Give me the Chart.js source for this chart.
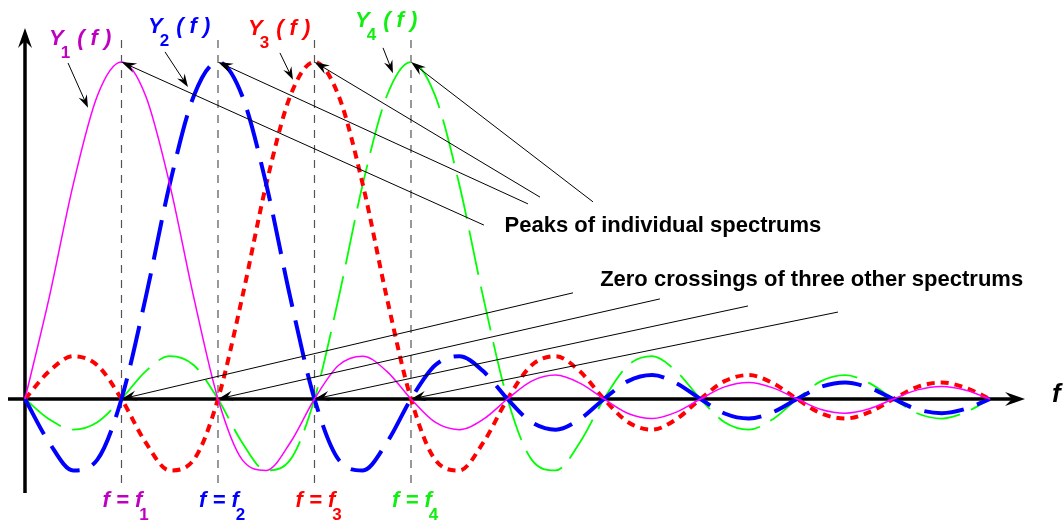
<!DOCTYPE html>
<html>
<head>
<meta charset="utf-8">
<title>Overlapping subcarrier spectra</title>
<script src="https://cdn.jsdelivr.net/npm/chart.js@4.4.1/dist/chart.umd.min.js"></script>
<style>
  html, body { margin: 0; padding: 0; background: #fff; }
  #wrap { width: 1064px; height: 523px; }
</style>
</head>
<body>
<div id="wrap"><canvas id="spectra" width="1064" height="523"></canvas></div>
<script>
// Frequency grid, in units of the subcarrier spacing
const freq = [0, 0.25, 0.5, 0.75, 1, 1.25, 1.5, 1.75, 2, 2.25, 2.5, 2.75, 3, 3.25, 3.5, 3.75,
              4, 4.25, 4.5, 4.75, 5, 5.25, 5.5, 5.75, 6, 6.25, 6.5, 6.75, 7, 7.25, 7.5, 7.75,
              8, 8.25, 8.5, 8.75, 9, 9.25, 9.5, 9.75, 10];

// Spectrum amplitudes (peak = 1)
const y1Vals = [0, 0.300, 0.637, 0.900, 1, 0.900, 0.637, 0.300, 0, -0.180, -0.212, -0.129, 0, 0.100, 0.127, 0.082,
                0, -0.069, -0.091, -0.060, 0, 0.053, 0.071, 0.047, 0, -0.043, -0.058, -0.039, 0, 0.036, 0.049, 0.033,
                0, -0.031, -0.042, -0.029, 0, 0.027, 0.037, 0.026, 0];
const y2Vals = [0, -0.129, -0.212, -0.180, 0, 0.300, 0.637, 0.900, 1, 0.900, 0.637, 0.300, 0, -0.180, -0.212, -0.129,
                0, 0.100, 0.127, 0.082, 0, -0.069, -0.091, -0.060, 0, 0.053, 0.071, 0.047, 0, -0.043, -0.058, -0.039,
                0, 0.036, 0.049, 0.033, 0, -0.031, -0.042, -0.029, 0];
const y3Vals = [0, 0.082, 0.127, 0.100, 0, -0.129, -0.212, -0.180, 0, 0.300, 0.637, 0.900, 1, 0.900, 0.637, 0.300,
                0, -0.180, -0.212, -0.129, 0, 0.100, 0.127, 0.082, 0, -0.069, -0.091, -0.060, 0, 0.053, 0.071, 0.047,
                0, -0.043, -0.058, -0.039, 0, 0.036, 0.049, 0.033, 0];
const y4Vals = [0, -0.060, -0.091, -0.069, 0, 0.082, 0.127, 0.100, 0, -0.129, -0.212, -0.180, 0, 0.300, 0.637, 0.900,
                1, 0.900, 0.637, 0.300, 0, -0.180, -0.212, -0.129, 0, 0.100, 0.127, 0.082, 0, -0.069, -0.091, -0.060,
                0, 0.053, 0.071, 0.047, 0, -0.043, -0.058, -0.039, 0];

// Subcarrier centre frequencies and their names
const carriers = [1, 2, 3, 4];
const carrierSubs = ['1', '2', '3', '4'];

const curveColors = ['#ff00ff', '#0000ff', '#ff0000', '#00ff00'];
const textColors = ['#c000c0', '#0000ff', '#ff0000', '#11ee11'];

// Annotation layout, in data units (frequency, amplitude)
const nameAnchors = [[0.249, 1.050], [1.275, 1.086], [2.311, 1.080], [3.420, 1.104]];
const nameArrows = [[0.446, 0.997, 0.653, 0.864], [1.451, 1.030, 1.689, 0.926],
                    [2.642, 1.027, 2.777, 0.947], [3.710, 1.042, 3.813, 0.967]];
const peakTails = [[4.756, 0.516], [5.212, 0.579], [5.337, 0.599], [5.886, 0.585]];
const zeroTails = [[5.679, 0.315], [6.580, 0.297], [7.492, 0.276], [8.425, 0.258]];

const FONT = '"Liberation Sans", Arial, sans-serif';
const bigFont = 'italic bold 22px ' + FONT;
const subFont = 'bold 17px ' + FONT;

function toPoints(vals) {
    return freq.map((f, i) => ({ x: f, y: vals[i] }));
}

// Line with a barbed arrowhead at (x1, y1)
function arrow(ctx, x0, y0, x1, y1, len, half) {
    const ang = Math.atan2(y1 - y0, x1 - x0);
    const c = Math.cos(ang), s = Math.sin(ang);
    const bx = x1 - len * c, by = y1 - len * s;
    ctx.beginPath();
    ctx.moveTo(x0, y0);
    ctx.lineTo(x1 - len * 0.6 * c, y1 - len * 0.6 * s);
    ctx.stroke();
    ctx.beginPath();
    ctx.moveTo(x1, y1);
    ctx.lineTo(bx - half * s, by + half * c);
    ctx.lineTo(x1 - len * 0.65 * c, y1 - len * 0.65 * s);
    ctx.lineTo(bx + half * s, by - half * c);
    ctx.closePath();
    ctx.fill();
}

// Text with a subscript, optionally followed by more text
function subText(ctx, x, base, main, sub, tail, color) {
    ctx.fillStyle = color;
    ctx.font = bigFont;
    ctx.fillText(main, x, base);
    const w = ctx.measureText(main).width;
    ctx.font = subFont;
    ctx.fillText(sub, x + w - 3, base + 13);
    const ws = ctx.measureText(sub).width;
    if (tail) {
        ctx.font = bigFont;
        ctx.fillText(tail, x + w - 3 + ws + 7, base);
    }
}

const diagram = {
    id: 'diagram',
    beforeDatasetsDraw(chart) {
        const { ctx, scales: { x, y } } = chart;
        const px = f => x.getPixelForValue(f);
        const py = a => y.getPixelForValue(a);
        ctx.save();

        // dashed markers at the carrier frequencies
        ctx.strokeStyle = '#555';
        ctx.lineWidth = 1.2;
        ctx.setLineDash([8, 7]);
        carriers.forEach(k => {
            ctx.beginPath();
            ctx.moveTo(px(k), py(1.065));
            ctx.lineTo(px(k), py(-0.27));
            ctx.stroke();
        });
        ctx.setLineDash([]);

        // axes with arrowheads
        ctx.strokeStyle = '#000';
        ctx.fillStyle = '#000';
        ctx.lineWidth = 3.5;
        arrow(ctx, px(-0.176), py(0), px(10.363), py(0), 20, 7);
        arrow(ctx, px(0), py(-0.279), px(0), py(1.101), 20, 7);
        ctx.restore();
    },
    afterDatasetsDraw(chart) {
        const { ctx, scales: { x, y } } = chart;
        const px = f => x.getPixelForValue(f);
        const py = a => y.getPixelForValue(a);
        ctx.save();
        ctx.textBaseline = 'alphabetic';
        ctx.strokeStyle = '#000';
        ctx.fillStyle = '#000';
        ctx.lineWidth = 1;

        // arrows from the curve names
        nameArrows.forEach(a => arrow(ctx, px(a[0]), py(a[1]), px(a[2]), py(a[3]), 13, 4.5));

        // arrows to the peaks and to the shared zero crossings
        peakTails.forEach((t, i) => arrow(ctx, px(t[0]), py(t[1]), px(carriers[i]), py(1), 15, 5));
        zeroTails.forEach((t, i) => arrow(ctx, px(t[0]), py(t[1]), px(carriers[i]), py(0), 15, 5));

        ctx.font = 'bold 22px ' + FONT;
        ctx.fillStyle = '#000';
        ctx.fillText('Peaks of individual spectrums', px(4.97), py(0.496));
        ctx.fillText('Zero crossings of three other spectrums', px(5.96), py(0.335));

        ctx.font = 'italic bold 26px ' + FONT;
        ctx.fillText('f', px(10.642), py(-0.01));

        // curve names and carrier labels
        carriers.forEach((k, i) => {
            const n = nameAnchors[i];
            subText(ctx, px(n[0]), py(n[1]), 'Y', carrierSubs[i], '( f )', textColors[i]);
            subText(ctx, px(k) - 19, py(-0.320), 'f = f', carrierSubs[i], null, textColors[i]);
        });
        ctx.restore();
    }
};

const lineStyle = {
    fill: false,
    pointRadius: 0,
    cubicInterpolationMode: 'monotone',
    borderCapStyle: 'butt'
};

new Chart(document.getElementById('spectra'), {
    type: 'line',
    data: {
        datasets: [
            { ...lineStyle, label: 'Y1(f)', data: toPoints(y1Vals), borderColor: curveColors[0], borderWidth: 1.5 },
            { ...lineStyle, label: 'Y2(f)', data: toPoints(y2Vals), borderColor: curveColors[1], borderWidth: 4, borderDash: [40, 14] },
            { ...lineStyle, label: 'Y3(f)', data: toPoints(y3Vals), borderColor: curveColors[2], borderWidth: 4, borderDash: [8, 6] },
            { ...lineStyle, label: 'Y4(f)', data: toPoints(y4Vals), borderColor: curveColors[3], borderWidth: 1.8, borderDash: [45, 12] }
        ]
    },
    options: {
        responsive: false,
        animation: false,
        devicePixelRatio: 1,
        layout: { padding: 0 },
        plugins: { legend: { display: false }, tooltip: { enabled: false } },
        scales: {
            x: { type: 'linear', min: -0.259, max: 10.767, display: false },
            y: { min: -0.368, max: 1.184, display: false }
        }
    },
    plugins: [diagram]
});
</script>
</body>
</html>
